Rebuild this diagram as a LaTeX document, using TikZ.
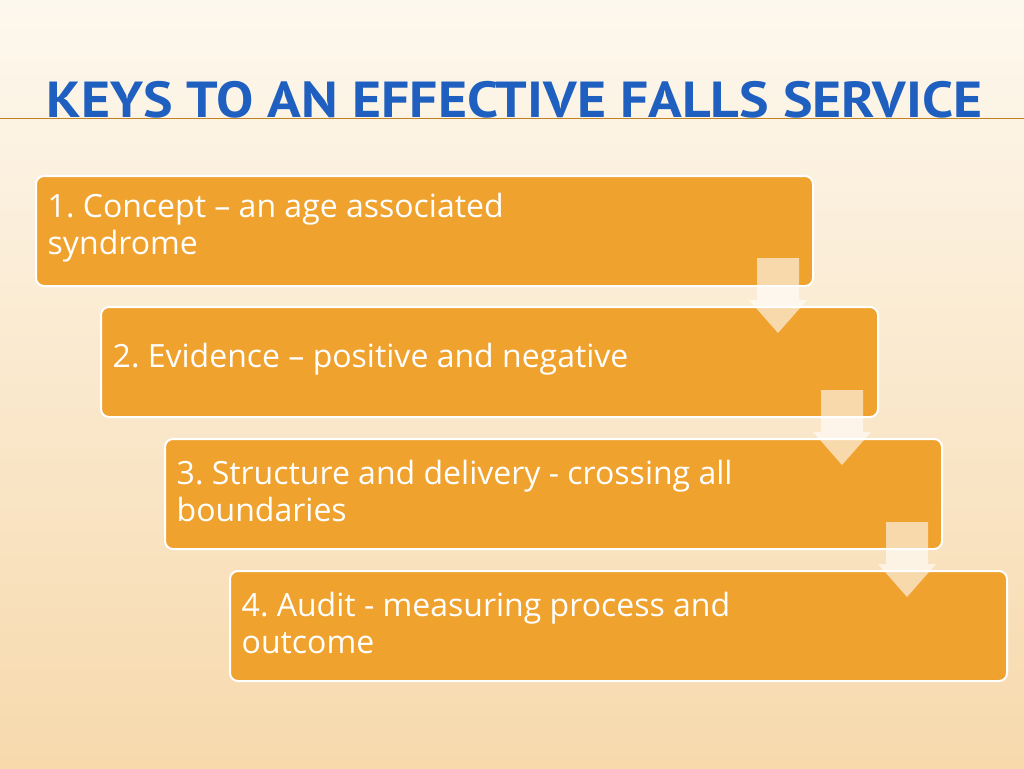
\documentclass[tikz,border=0pt]{standalone}
\usepackage{fontspec}
\setmainfont{Open Sans}
\newfontfamily\titlefont{PT Sans}
\usetikzlibrary{calc}
\frenchspacing
\definecolor{boxorange}{HTML}{EFA22E}
\definecolor{titleblue}{HTML}{1F5FBF}
\definecolor{bgtop}{HTML}{FDF8EE}
\definecolor{bgbottom}{HTML}{F7D9AC}
\tikzset{
  stepbox/.style={draw=white, line width=1.5pt, fill=boxorange, rounded corners=6pt,
                  minimum width=777*0.75pt, minimum height=110*0.75pt, anchor=north west,
                  inner sep=0pt},
  steptext/.style={anchor=west, text=white, align=left, font=\fontsize{24}{28}\selectfont},
  downarrow/.style={fill=white, fill opacity=0.6, draw=none},
}
\begin{document}
\begin{tikzpicture}[x=0.75pt, y=-0.75pt]
  \shade[top color=bgtop, bottom color=bgbottom] (0,0) rectangle (1024,768);
  \useasboundingbox (0,0) rectangle (1024,768);
  % title
  \node[anchor=west, text=titleblue, font=\titlefont\bfseries\fontsize{38}{38}\selectfont]
      (title) at (42,100) {\scalebox{1.1}[1]{KEYS TO AN EFFECTIVE FALLS SERVICE}};
  \draw[boxorange!80!black, line width=0.6pt] (0,118) coordinate (tl) -- (1024,118) coordinate (tr);
  % steps
  \node[stepbox] (s1) at (35,175) {};
  \node[stepbox] (s2) at (100,306) {};
  \node[stepbox] (s3) at (164,438) {};
  \node[stepbox] (s4) at (229,570) {};
  \foreach \s/\t in {s1/{1. Concept -- an age associated\\syndrome},
                     s2/{2. Evidence -- positive and negative},
                     s3/{3. Structure and delivery - crossing all\\boundaries},
                     s4/{4. Audit - measuring process and\\outcome}} {
    \node[steptext] (\s t) at ($(\s.west)+(8,-3)$) {\t};
  }
  % arrows
  \foreach \a/\b in {s1/s2, s2/s3, s3/s4} {
    \path[downarrow] ($(\b.north east)+(-122,-48)$) -- ++(42,0) -- ++(0,42)
      -- ++(8,0) -- ++(-29,33) -- ++(-29,-33) -- ++(8,0) -- cycle;
  }
\end{tikzpicture}
\end{document}
